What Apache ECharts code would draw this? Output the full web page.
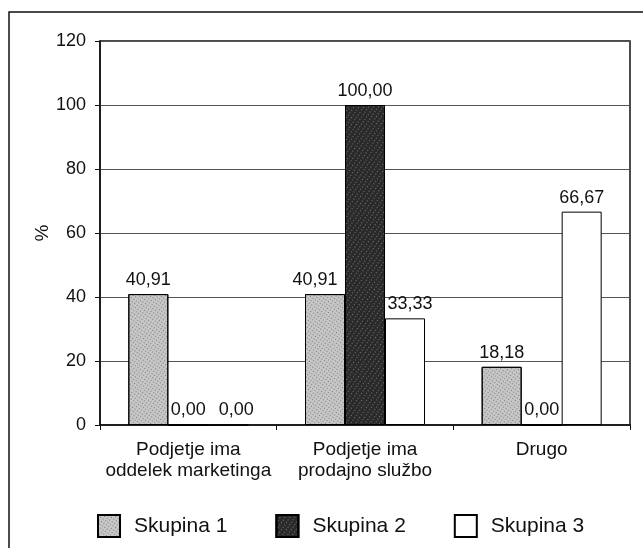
<!DOCTYPE html>
<html><head><meta charset="utf-8">
<script src="https://cdn.jsdelivr.net/npm/echarts@6/dist/echarts.min.js"></script>
<style>html,body{margin:0;padding:0;background:#fff}#c{width:643px;height:548px}</style>
</head><body><div id="c"></div>
<script>
var categories = ['Podjetje ima\noddelek marketinga', 'Podjetje ima\nprodajno službo', 'Drugo'];
var seriesNames = ['Skupina 1', 'Skupina 2', 'Skupina 3'];
var skupina1 = [40.91, 40.91, 18.18];
var skupina2 = [0.00, 100.00, 0.00];
var skupina3 = [0.00, 33.33, 66.67];
var yTicks = [0, 20, 40, 60, 80, 100, 120];

var font = 'Liberation Sans, Arial, sans-serif';
var chart = echarts.init(document.getElementById('c'), null, {renderer: 'canvas'});
function fmt(p){ return p.value.toFixed(2).replace('.', ','); }
var colors = ['#c6c6c6', '#2a2a2a', '#ffffff'];
var decals = [
  {symbol: 'rect', symbolSize: 1, dashArrayX: [1, 2], dashArrayY: [1, 2], rotation: 0.6, color: 'rgba(60,60,60,0.55)'},
  {symbol: 'rect', symbolSize: 1, dashArrayX: [1, 3], dashArrayY: [1, 2], rotation: 0.6, color: 'rgba(200,200,200,0.5)'},
  null
];
// avoid label collisions like the original (Excel shifts crowded labels)
var labelShift = [[0, -10, 0], [0, 0, 0], [8, 5, 0]];
var seriesData = [skupina1, skupina2, skupina3];
var series = seriesData.map(function(d, i){
  var items = d.map(function(v, j){
    return {value: v, label: {offset: [labelShift[i][j], 0]}};
  });
  var style = {color: colors[i], borderColor: '#000', borderWidth: 1};
  if (decals[i]) style.decal = decals[i];
  return {
    name: seriesNames[i], type: 'bar', data: items,
    barWidth: 40, barGap: '0%',
    itemStyle: style,
    label: {show: true, position: 'top', distance: 5, formatter: fmt,
      color: '#111', fontSize: 18, fontFamily: font}
  };
});
chart.setOption({
  animation: false,
  backgroundColor: '#fff',
  graphic: [{type: 'rect', shape: {x: 9, y: 12, width: 660, height: 560},
    style: {fill: 'none', stroke: '#111', lineWidth: 1.5}, silent: true}],
  grid: {left: 100, right: 13, top: 41, bottom: 123, show: true,
    borderColor: '#111', borderWidth: 1.5},
  legend: {top: 509, left: 92, itemGap: 48, itemWidth: 22, itemHeight: 22, icon: 'rect',
    textStyle: {fontSize: 21, fontFamily: font, color: '#111', padding: [0, 0, 0, 9]},
    data: seriesNames},
  xAxis: {type: 'category', data: categories,
    axisLine: {lineStyle: {color: '#111', width: 1.5}},
    axisTick: {show: true, length: 5, lineStyle: {color: '#111'}},
    axisLabel: {fontSize: 19, fontFamily: font, color: '#111', margin: 14, lineHeight: 21, interval: 0}},
  yAxis: {type: 'value', min: 0, max: 120, interval: 20,
    name: '%', nameLocation: 'middle', nameGap: 48, nameRotate: 90, nameMoveOverlap: false,
    nameTextStyle: {fontSize: 19, fontFamily: font, color: '#111'},
    axisLine: {show: true, lineStyle: {color: '#111', width: 1.5}},
    axisTick: {show: true, length: 5, lineStyle: {color: '#111'}},
    axisLabel: {fontSize: 18, fontFamily: font, color: '#111', margin: 14,
      formatter: function(v){ return yTicks.indexOf(v) >= 0 ? String(v) : ''; }},
    splitLine: {show: true, lineStyle: {color: '#555', width: 1}}},
  series: series
});
</script></body></html>
